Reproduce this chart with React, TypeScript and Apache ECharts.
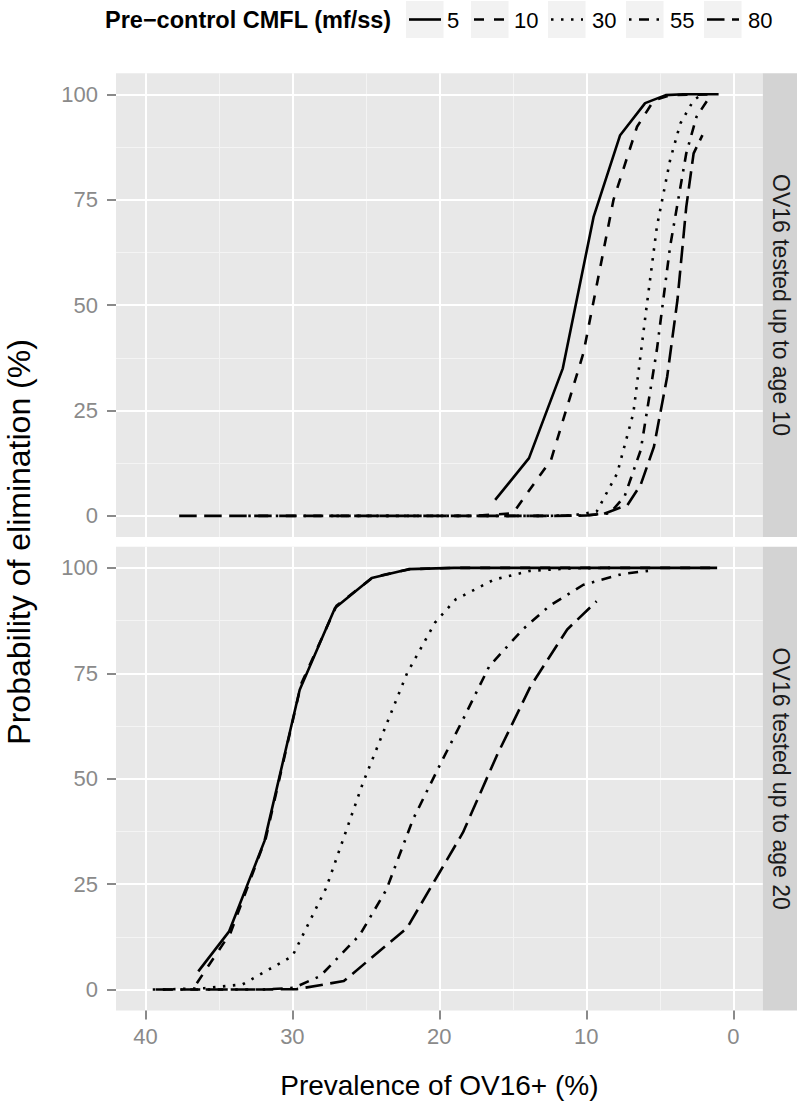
import React, { useEffect, useRef } from 'react';
import * as echarts from 'echarts';

// ---------- data ----------
const legendTitle = 'Pre\u2212control CMFL (mf/ss)';
const cmflLevels = ['5', '10', '30', '55', '80'];
const panelLabels = ['OV16 tested up to age 10', 'OV16 tested up to age 20'];
const xTitle = 'Prevalence of OV16+ (%)';
const yTitle = 'Probability of elimination (%)';
const xTicks = [0, 10, 20, 30, 40];
const xMinorTicks = [5, 15, 25, 35];
const yTicks = [0, 25, 50, 75, 100];
const yMinorTicks = [12.5, 37.5, 62.5, 87.5];

// Panel 1: OV16 tested up to age 10
const age10Prev5 = [16.2, 13.9, 11.6, 9.5, 7.7, 6.0, 4.6, 3.4, 1.0];
const age10Prob5 = [3.8, 13.7, 35.0, 71.0, 90.3, 97.9, 99.8, 100, 100];
const age10Prev10 = [17.3, 15.0, 12.4, 10.2, 8.15, 6.55, 5.4, 4.3, 1.4];
const age10Prob10 = [0.1, 0.6, 13.3, 38.6, 75.0, 92.3, 98.6, 99.8, 100];
const age10Prev30 = [27.0, 22.0, 17.5, 13.5, 11.0, 9.3, 7.9, 6.8, 5.9, 5.2, 4.3, 3.6, 2.7, 2.2];
const age10Prob30 = [0, 0, 0, 0, 0.1, 1.0, 10.1, 24.4, 49.6, 68.6, 84.4, 93.1, 98.6, 99.8];
const age10Prev55 = [33.0, 27.0, 21.5, 17.0, 13.0, 10.2, 8.4, 7.4, 6.3, 5.2, 4.3, 3.2, 2.5, 1.6];
const age10Prob55 = [0, 0, 0, 0, 0, 0.1, 0.6, 4.6, 15.6, 39.4, 63.9, 86.0, 94.7, 99.4];
const age10Prev80 = [37.7, 31.5, 26.0, 21.0, 16.5, 12.5, 10.0, 8.8, 7.2, 6.3, 5.4, 4.5, 3.8, 3.2, 2.7, 2.1];
const age10Prob80 = [0, 0, 0, 0, 0, 0, 0.1, 0.5, 2.6, 7.4, 16.4, 33.0, 51.2, 73.3, 86.0, 90.3];

// Panel 2: OV16 tested up to age 20
const age20Prev5 = [36.4, 34.3, 31.9, 29.5, 27.1, 24.6, 22.1, 19.0, 1.1];
const age20Prob5 = [4.3, 13.8, 35.2, 71.1, 90.5, 97.6, 99.7, 100, 100];
const age20Prev10 = [36.5, 34.2, 31.8, 29.4, 27.0, 24.5, 22.0, 19.0, 1.4];
const age20Prob10 = [1.5, 13.5, 36.0, 72.5, 91.0, 97.8, 99.7, 100, 100];
const age20Prev30 = [38.8, 36.0, 33.4, 30.0, 27.7, 25.2, 22.2, 20.3, 18.9, 16.3, 13.8, 11.0, 8.4];
const age20Prob30 = [0, 0.3, 1.2, 7.9, 24.1, 49.0, 75.0, 87.0, 92.5, 97.2, 99.3, 99.9, 100];
const age20Prev55 = [39.5, 35.5, 32.0, 29.9, 28.1, 25.4, 23.6, 21.8, 20.0, 18.4, 16.6, 14.3, 12.5, 10.2, 7.5, 5.3];
const age20Prob55 = [0, 0, 0, 0.4, 3.2, 13.0, 23.7, 40.3, 53.0, 64.0, 76.7, 85.5, 91.0, 96.0, 98.6, 99.5];
const age20Prev80 = [39.3, 35.5, 32.0, 29.7, 26.5, 22.2, 20.0, 18.4, 16.1, 13.8, 11.3, 9.3];
const age20Prob80 = [0, 0, 0, 0.1, 2.0, 14.6, 27.7, 37.2, 55.4, 71.9, 85.4, 92.1];

const panelPrev = [
  [age10Prev5, age10Prev10, age10Prev30, age10Prev55, age10Prev80],
  [age20Prev5, age20Prev10, age20Prev30, age20Prev55, age20Prev80],
];
const panelProb = [
  [age10Prob5, age10Prob10, age10Prob30, age10Prob55, age10Prob80],
  [age20Prob5, age20Prob10, age20Prob30, age20Prob55, age20Prob80],
];

// ---------- styles ----------
const LW = 2.6;
const dashStyles: any[] = ['solid', [10, 10], [2.5, 7.5], [2.5, 7.5, 10, 7.5], [17.5, 7.5]];
const FONT = 'Liberation Sans, Arial, Helvetica, sans-serif';
const PANEL_BG = '#E8E8E8';
const STRIP_BG = '#D3D3D3';
const TICK_COLOR = '#8A8A8A';

const GRID_LEFT = 116;
const GRID_WIDTH = 646.7;
const GRID_TOPS = [73.2, 546.8];
const GRID_HEIGHT = 463.8;
const X_MIN = -2;
const X_MAX = 42;
const Y_MIN = -5;
const Y_MAX = 105;

function dashArray(d: any): number[] | null {
  return d === 'solid' ? null : d;
}

export default function App() {
  const ref = useRef<HTMLDivElement>(null);

  useEffect(() => {
    if (!ref.current) return;
    const chart = echarts.init(ref.current, undefined, { renderer: 'svg' });

    const grids = GRID_TOPS.map((t) => ({
      left: GRID_LEFT,
      top: t,
      width: GRID_WIDTH,
      height: GRID_HEIGHT,
      show: true,
      backgroundColor: PANEL_BG,
      borderWidth: 0,
      z: 0,
    }));

    const xAxes: any[] = [];
    const yAxes: any[] = [];
    [0, 1].forEach((g) => {
      const isBottom = g === 1;
      xAxes.push({
        type: 'value',
        gridIndex: g,
        position: 'bottom',
        min: X_MIN,
        max: X_MAX,
        inverse: true,
        z: 2,
        axisLine: { show: false, onZero: false },
        axisTick: {
          show: isBottom,
          customValues: xTicks,
          length: 9,
          lineStyle: { color: TICK_COLOR, width: 2 },
        },
        axisLabel: {
          show: isBottom,
          customValues: xTicks,
          margin: 15,
          color: TICK_COLOR,
          fontSize: 22,
          fontFamily: FONT,
          formatter: (v: number) => String(v),
        },
        splitLine: { show: true, lineStyle: { color: '#FFFFFF', width: 2 } },
      });
      yAxes.push({
        type: 'value',
        gridIndex: g,
        position: 'left',
        min: Y_MIN,
        max: Y_MAX,
        z: 2,
        axisLine: { show: false, onZero: false },
        axisTick: {
          show: true,
          customValues: yTicks,
          length: 9,
          lineStyle: { color: TICK_COLOR, width: 2 },
        },
        axisLabel: {
          show: true,
          customValues: yTicks,
          margin: 18,
          color: TICK_COLOR,
          fontSize: 22,
          fontFamily: FONT,
          formatter: (v: number) => String(v),
        },
        splitLine: { show: true, lineStyle: { color: '#FFFFFF', width: 2 } },
      });
    });
    // minor grid axes
    [0, 1].forEach((g) => {
      xAxes.push({
        type: 'value',
        gridIndex: g,
        position: 'bottom',
        min: X_MIN,
        max: X_MAX,
        inverse: true,
        z: 1,
        axisLine: { show: false, onZero: false },
        axisTick: { show: false, customValues: xMinorTicks },
        axisLabel: { show: false, customValues: xMinorTicks },
        splitLine: { show: true, lineStyle: { color: '#F4F4F4', width: 1 } },
      });
      yAxes.push({
        type: 'value',
        gridIndex: g,
        position: 'left',
        min: Y_MIN,
        max: Y_MAX,
        z: 1,
        axisLine: { show: false, onZero: false },
        axisTick: { show: false, customValues: yMinorTicks },
        axisLabel: { show: false, customValues: yMinorTicks },
        splitLine: { show: true, lineStyle: { color: '#F4F4F4', width: 1 } },
      });
    });

    const series: any[] = [];
    [0, 1].forEach((g) => {
      cmflLevels.forEach((lvl, k) => {
        const xs = panelPrev[g][k];
        const ys = panelProb[g][k];
        series.push({
          type: 'line',
          name: lvl,
          xAxisIndex: g,
          yAxisIndex: g,
          data: xs.map((x, i) => [x, ys[i]]),
          symbol: 'none',
          showSymbol: false,
          silent: true,
          z: 3,
          lineStyle: {
            color: '#000000',
            width: LW,
            type: dashStyles[k],
            cap: 'butt',
            join: 'round',
          },
        });
      });
    });

    const graphics: any[] = [];
    // strips
    GRID_TOPS.forEach((t, g) => {
      graphics.push({
        type: 'rect',
        shape: { x: GRID_LEFT + GRID_WIDTH, y: t, width: 797 - (GRID_LEFT + GRID_WIDTH), height: GRID_HEIGHT },
        style: { fill: STRIP_BG },
        silent: true,
      });
      graphics.push({
        type: 'text',
        x: 780.5,
        y: t + GRID_HEIGHT / 2,
        rotation: -Math.PI / 2,
        style: {
          text: panelLabels[g],
          fill: '#1A1A1A',
          font: `23px ${FONT}`,
          align: 'center',
          verticalAlign: 'middle',
          textAlign: 'center',
          textVerticalAlign: 'middle',
        },
        silent: true,
      });
    });
    // axis titles
    graphics.push({
      type: 'text',
      x: GRID_LEFT + GRID_WIDTH / 2,
      y: 1085,
      style: {
        text: xTitle,
        fill: '#000000',
        font: `28px ${FONT}`,
        align: 'center',
        verticalAlign: 'middle',
        textAlign: 'center',
        textVerticalAlign: 'middle',
      },
      silent: true,
    });
    graphics.push({
      type: 'text',
      x: 19,
      y: GRID_TOPS[0] + (GRID_TOPS[1] + GRID_HEIGHT - GRID_TOPS[0]) / 2,
      rotation: Math.PI / 2,
      style: {
        text: yTitle,
        fill: '#000000',
        font: `32px ${FONT}`,
        align: 'center',
        verticalAlign: 'middle',
        textAlign: 'center',
        textVerticalAlign: 'middle',
      },
      silent: true,
    });
    // legend
    graphics.push({
      type: 'text',
      x: 105,
      y: 20,
      style: {
        text: legendTitle,
        fill: '#000000',
        font: `bold 23.5px ${FONT}`,
        align: 'left',
        verticalAlign: 'middle',
        textAlign: 'left',
        textVerticalAlign: 'middle',
      },
      silent: true,
    });
    const keyX = [406, 471, 548, 626, 704];
    const labelX = [447, 514, 592, 670, 748];
    cmflLevels.forEach((lvl, k) => {
      graphics.push({
        type: 'rect',
        shape: { x: keyX[k], y: 1, width: 37.5, height: 37 },
        style: { fill: '#F2F2F2' },
        silent: true,
      });
      graphics.push({
        type: 'line',
        shape: { x1: keyX[k] + 3, y1: 19.5, x2: keyX[k] + 35, y2: 19.5 },
        style: { stroke: '#000000', lineWidth: LW, lineDash: dashArray(dashStyles[k]), lineCap: 'butt' },
        silent: true,
      });
      graphics.push({
        type: 'text',
        x: labelX[k],
        y: 20,
        style: {
          text: lvl,
          fill: '#000000',
          font: `22px ${FONT}`,
          align: 'left',
          verticalAlign: 'middle',
          textAlign: 'left',
          textVerticalAlign: 'middle',
        },
        silent: true,
      });
    });

    chart.setOption({
      animation: false,
      backgroundColor: '#FFFFFF',
      grid: grids,
      xAxis: xAxes,
      yAxis: yAxes,
      series,
      graphic: graphics,
    });

    return () => chart.dispose();
  }, []);

  return (
    <div
      ref={ref}
      style={{ position: 'absolute', left: 0, top: 0, width: 797, height: 1110 }}
    />
  );
}
